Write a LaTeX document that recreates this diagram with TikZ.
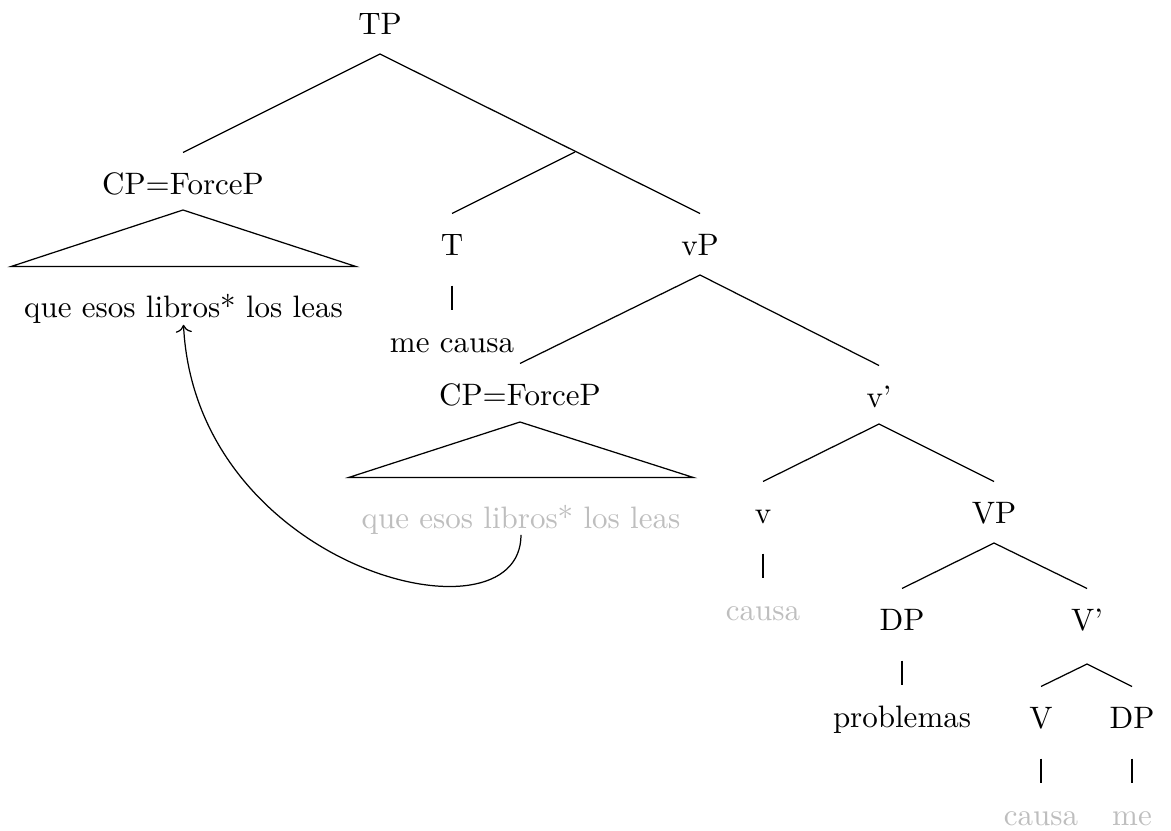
\documentclass[tikz,border=0pt]{standalone}
\usepackage{tikz}
\usetikzlibrary{arrows.meta,calc}
\definecolor{trace}{RGB}{190,190,190}

\begin{document}
\begin{tikzpicture}[
  x=0.3226pt, y=-0.3226pt,
  cat/.style={anchor=base, inner xsep=4pt, inner ysep=0pt,
              text height=13.2pt, text depth=9.7pt},
  copy/.style={cat, text=trace},
  branch/.style={line width=0.4pt},
  move/.style={->, line width=0.4pt},
]
\useasboundingbox (0,0) rectangle (1171,830);

% labels
\node[cat] (TP)   at (380,34)   {TP};
\node[cat] (CPa)  at (183,194)  {CP=ForceP};
\node[cat] (qa)   at (183.5,317) {que esos libros* los leas};
\node[cat] (T)    at (452,255)  {T};
\node[cat] (vP)   at (700,255)  {vP};
\node[cat] (mc)   at (452,352)  {me causa};
\node[cat] (CPb)  at (520,405)  {CP=ForceP};
\node[copy] (qb)  at (521,528)  {que esos libros* los leas};
\node[cat] (vbar) at (879,407)  {v'};
\node[cat] (v)    at (763,523)  {v};
\node[copy] (cs1) at (763,620)  {causa};
\node[cat] (VP)   at (994,523)  {VP};
\node[cat] (DPa)  at (902,630)  {DP};
\node[cat] (prob) at (902,727)  {problemas};
\node[cat] (Vbar) at (1087,630) {V'};
\node[cat] (V)    at (1041,728) {V};
\node[cat] (DPb)  at (1132,728) {DP};
\node[copy] (cs2) at (1041,825) {causa};
\node[copy] (me)  at (1132,825) {me};

% forks
\coordinate (TPf)   at (380,54);
\coordinate (Tbarf) at (575,152);
\coordinate (CPaf)  at (183,210);
\coordinate (vPf)   at (700,275);
\coordinate (CPbf)  at (520,422);
\coordinate (vbarf) at (879,424);
\coordinate (VPf)   at (994,543);
\coordinate (Vbarf) at (1087,664);

\draw[branch] (CPa.north) -- (TPf) -- (vP.north);
\draw[branch] (Tbarf) -- (T.north);
\draw[branch] (CPb.north) -- (vPf) -- (vbar.north);
\draw[branch] (v.north) -- (vbarf) -- (VP.north);
\draw[branch] (DPa.north) -- (VPf) -- (Vbar.north);
\draw[branch] (V.north) -- (Vbarf) -- (DPb.north);

\draw[branch] (CPaf) -- ([yshift=2.9pt]qa.north west)
  -- ([yshift=2.9pt]qa.north east) -- cycle;
\draw[branch] (CPbf) -- ([yshift=2.9pt]qb.north west)
  -- ([yshift=2.9pt]qb.north east) -- cycle;

\draw[branch] (T.south) -- (T.south |- mc.north);
\draw[branch] (v.south) -- (v.south |- cs1.north);
\draw[branch] (DPa.south) -- (DPa.south |- prob.north);
\draw[branch] (V.south) -- (V.south |- cs2.north);
\draw[branch] (DPb.south) -- (DPb.south |- me.north);

\draw[move] ([yshift=-2.2pt]qb.base) .. controls +(0,115) and +(12,245)
  .. ([yshift=-2.5pt]qa.base);

\end{tikzpicture}
\end{document}
